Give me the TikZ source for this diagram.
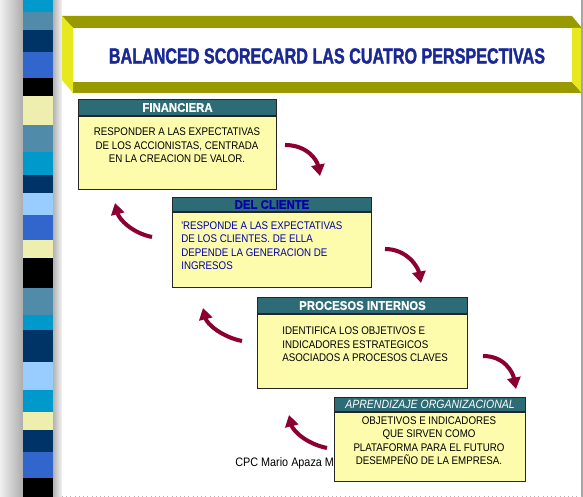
\documentclass[tikz,border=0pt]{standalone}
\usepackage{fontspec}
\setmainfont{Liberation Sans}
\newfontfamily\bodyfont[FakeStretch=0.88]{Liberation Sans}
\newfontfamily\headfont[FakeStretch=0.9,FakeBold=0.6]{Liberation Sans}
\newfontfamily\titlefont[FakeStretch=0.735,FakeBold=1.5]{Liberation Sans}
\usetikzlibrary{arrows.meta,positioning}
\definecolor{myolive}{RGB}{153,153,0}
\definecolor{myyellow}{RGB}{232,232,30}
\definecolor{myteal}{RGB}{45,108,118}
\definecolor{mypale}{RGB}{252,252,172}
\definecolor{mymaroon}{RGB}{139,0,48}
\definecolor{mytitle}{RGB}{25,40,150}
\definecolor{myblue}{RGB}{0,0,170}
\definecolor{mycyan}{RGB}{0,153,204}
\definecolor{mysteel}{RGB}{80,140,170}
\definecolor{mynavy}{RGB}{0,51,102}
\definecolor{mymid}{RGB}{51,102,204}
\definecolor{mylight}{RGB}{153,204,255}
\definecolor{mycream}{RGB}{238,238,175}

\begin{document}
\begin{tikzpicture}
    [x=0.02cm,y=-0.02cm,
     head/.style={draw=black!85,line width=0.6pt,fill=myteal,inner sep=0pt,anchor=north west,
                  font=\headfont\bfseries\fontsize{7.2}{8}\selectfont,text=white},
     body/.style={draw=black!85,line width=0.6pt,fill=mypale,inner sep=0pt,anchor=north west},
     txt/.style={inner sep=0pt,font=\bodyfont\fontsize{6.3}{7.7}\selectfont},
     arr/.style={mymaroon,line width=2.3pt,-{Triangle[width=7.5pt,length=6.5pt]}}]

    \useasboundingbox (0,0) rectangle (583,497);

    % left strip
    \shade[left color=gray!12,right color=gray!65] (0,0) rectangle (23,497);
    \shade[left color=gray!60,right color=gray!8] (53,0) rectangle (62,497);
    \foreach \ya/\yb/\c in {0/12/mycyan,12/30/mysteel,30/52/mynavy,52/78/mymid,78/96/black,
        96/125/mycream,125/152/mysteel,152/175/mycyan,175/193/mynavy,193/215/mylight,
        215/240/mymid,240/258/mycream,258/288/black,288/315/mysteel,315/330/mycyan,
        330/362/mynavy,362/390/mylight,390/412/mycyan,412/430/mycream,430/452/mynavy,
        452/478/mymid,478/497/black}
        \fill[\c] (23,\ya) rectangle (53,\yb);

    % title banner
    \fill[myolive] (62,16) -- (572,16) -- (582,28) -- (73,28) -- cycle;
    \fill[myolive] (73,82) -- (572,82) -- (582,93) -- (73,93) -- cycle;
    \fill[myyellow] (62,16) -- (73,28) -- (73,93) -- (62,80) -- cycle;
    \fill[myyellow] (572,28) -- (582,28) -- (582,93) -- (572,82) -- cycle;
    \fill[white] (73,28) rectangle (572,82);
    \node[font=\titlefont\bfseries\fontsize{12.5}{14}\selectfont,text=mytitle] (title) at (327,56)
        {BALANCED SCORECARD LAS CUATRO PERSPECTIVAS};

    % page edges
    \draw[gray!70,line width=0.6pt] (582,0) -- (582,497);
    \draw[gray!60,dotted] (62,496) -- (582,496);

    \node[anchor=west,inner sep=0pt,font=\bodyfont\fontsize{7}{8}\selectfont] (author) at (235,463)
        {CPC Mario Apaza M};

    % arrows down (right side)
    \coordinate (a1s) at (285,145);
    \coordinate (a1e) at (320,176);
    \coordinate (a2s) at (385,249);
    \coordinate (a2e) at (421,283);
    \coordinate (a3s) at (483,356);
    \coordinate (a3e) at (516,389);
    \draw[arr] (a1s) .. controls +(22,0) and +(-3,-16) .. (a1e);
    \draw[arr] (a2s) .. controls +(22,0) and +(-3,-16) .. (a2e);
    \draw[arr] (a3s) .. controls +(22,0) and +(-3,-16) .. (a3e);

    % arrows up (left side)
    \coordinate (b1s) at (152,237);
    \coordinate (b1e) at (115,203);
    \coordinate (b2s) at (242,341);
    \coordinate (b2e) at (203,308);
    \coordinate (b3s) at (327,448);
    \coordinate (b3e) at (289,415);
    \draw[arr] (b1s) .. controls +(-20,-4) and +(4,16) .. (b1e);
    \draw[arr] (b2s) .. controls +(-20,-4) and +(4,16) .. (b2e);
    \draw[arr] (b3s) .. controls +(-20,-4) and +(4,16) .. (b3e);

    % FINANCIERA
    \node[head,minimum width=3.96cm,minimum height=0.32cm] (fin) at (78,99) {FINANCIERA};
    \node[body,minimum width=3.96cm,minimum height=1.46cm] (finBody) at (fin.south west) {};
    \node[txt,align=center] (finTxt) at (177,145.5)
        {RESPONDER A LAS EXPECTATIVAS\\DE LOS ACCIONISTAS, CENTRADA\\EN LA CREACION DE VALOR.};

    % DEL CLIENTE
    \node[head,minimum width=3.98cm,minimum height=0.28cm,text=myblue] (cli) at (172,197) {DEL CLIENTE};
    \node[body,minimum width=3.98cm,minimum height=1.5cm] (cliBody) at (cli.south west) {};
    \node[txt,align=left,anchor=west,text=myblue] (cliTxt) at (181,245.5)
        {'RESPONDE A LAS EXPECTATIVAS\\DE LOS CLIENTES. DE ELLA\\DEPENDE LA GENERACION DE\\INGRESOS};

    % PROCESOS INTERNOS
    \node[head,minimum width=4.2cm,minimum height=0.32cm] (pro) at (257,297) {PROCESOS INTERNOS};
    \node[body,minimum width=4.2cm,minimum height=1.48cm] (proBody) at (pro.south west) {};
    \node[txt,align=left,anchor=west] (proTxt) at (282,344.5)
        {IDENTIFICA LOS OBJETIVOS E\\INDICADORES ESTRATEGICOS\\ASOCIADOS A PROCESOS CLAVES};

    % APRENDIZAJE ORGANIZACIONAL
    \node[head,minimum width=3.82cm,minimum height=0.28cm,font=\bodyfont\itshape\fontsize{6.8}{7}\selectfont]
        (apr) at (334,397) {APRENDIZAJE ORGANIZACIONAL};
    \node[body,minimum width=3.82cm,minimum height=1.38cm] (aprBody) at (apr.south west) {};
    \node[txt,align=center] (aprTxt) at (429,440.5)
        {OBJETIVOS E INDICADORES\\QUE SIRVEN COMO\\PLATAFORMA PARA EL FUTURO\\DESEMPEÑO DE LA EMPRESA.};
\end{tikzpicture}
\end{document}
